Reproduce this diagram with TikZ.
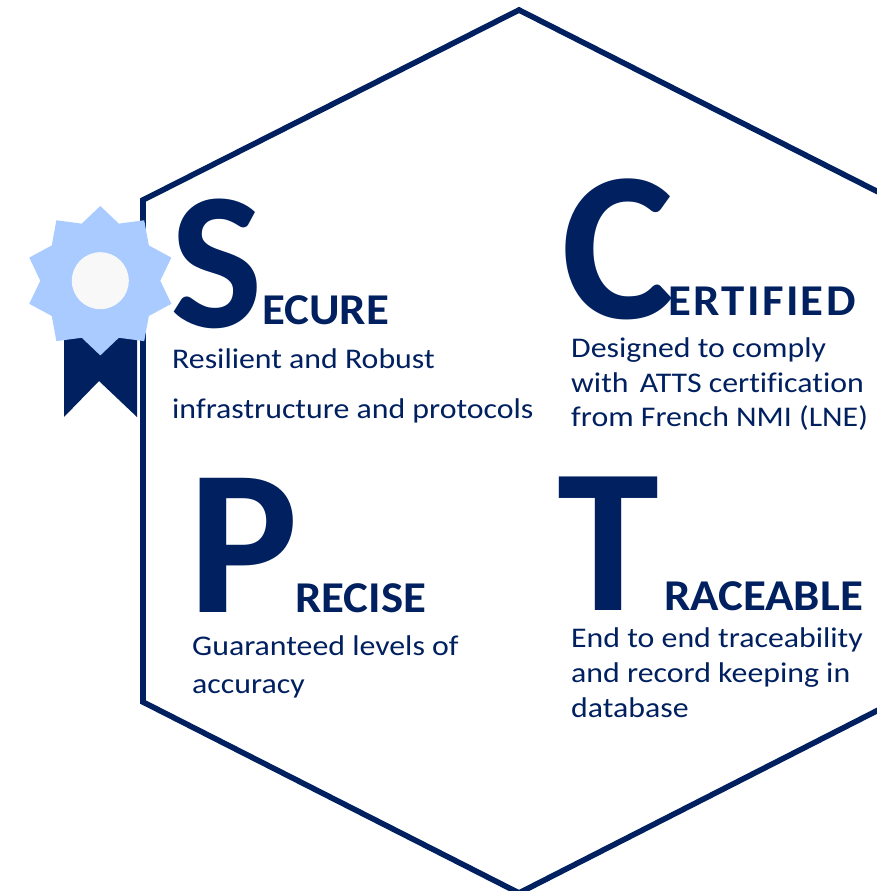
\documentclass[tikz,border=0pt]{standalone}
\usepackage{fontspec}
\newfontfamily\bodyf[FakeStretch=1.117,Ligatures=CommonOff]{Carlito}
\newfontfamily\capf[FakeStretch=1.065,Ligatures=CommonOff]{Carlito}
\newfontfamily\capwide[FakeStretch=1.065,Ligatures=CommonOff,LetterSpace=5.4]{Carlito}
\newfontfamily\bigf{Carlito}
\definecolor{navy}{HTML}{002060}
\definecolor{petal}{HTML}{A9CBFF}
\definecolor{pale}{HTML}{F8F8F8}
\tikzset{x=1pt,y=-1pt,
 hexline/.style={draw=navy,line width=5.6pt,line join=miter},
 big/.style={inner sep=0,anchor=base west,text=navy},
 caps/.style={inner sep=0,anchor=base west,text=navy,font=\capf\bfseries\fontsize{44}{44}\selectfont},
 body/.style={inner sep=0,anchor=base west,text=navy,font=\bodyf\fontsize{28.5}{28.5}\selectfont}}
\begin{document}
\begin{tikzpicture}
\useasboundingbox (0,0) rectangle (877,891);
\fill[white] (0,0) rectangle (877,891);
\coordinate (h1) at (900,203);
\coordinate (h2) at (519,10);
\coordinate (h3) at (143,200);
\coordinate (h4) at (143,702);
\coordinate (h5) at (519,893);
\coordinate (h6) at (900,699);
\draw[hexline] (h1)--(h2)--(h3)--(h4)--(h5)--(h6);
% badge
\fill[navy] (64,325)--(137,325)--(137,417)--(99,381)--(64,417)--cycle;
\fill[petal] (100.3,206) \foreach \i in {1,...,19}{ -- ({100.3+(mod(\i,2)==0?74.7:60)*sin(\i*18)},{280.7-(mod(\i,2)==0?74.7:60)*cos(\i*18)}) } -- cycle;
\fill[pale] (100.3,280.7) circle (28.5);
\node[big,font=\bigf\bfseries\fontsize{196}{196}\selectfont] (S) at (170,327) {S};
\node[caps] (s2) at (262,324) {ECURE};
\node[big,font=\bigf\bfseries\fontsize{213}{213}\selectfont] (C) at (561,318) {C};
\node[caps,font=\capwide\bfseries\fontsize{44}{44}\selectfont] (c2) at (668,315) {ERTIFIED};
\node[big,font=\bigf\bfseries\fontsize{207}{207}\selectfont] (P) at (188,612) {P};
\node[caps] (p2) at (295,612) {RECISE};
\node[big,font=\bigf\bfseries\fontsize{206}{206}\selectfont] (T) at (557,610) {T};
\node[caps] (t2) at (664,610) {RACEABLE};
\node[body] at (172,368) {Resilient and Robust};
\node[body] at (172,418) {infrastructure and protocols};
\node[body] at (571,357) {Designed to comply};
\node[body] at (571,392) {with\ \hspace{4pt}ATTS certification};
\node[body] at (571,426) {from French NMI (LNE)};
\node[body] at (192,655) {Guaranteed levels of};
\node[body] at (192,693) {accuracy};
\node[body] at (571,647) {End to end traceability};
\node[body] at (571,682) {and record keeping in};
\node[body] at (571,717) {database};
\end{tikzpicture}
\end{document}
